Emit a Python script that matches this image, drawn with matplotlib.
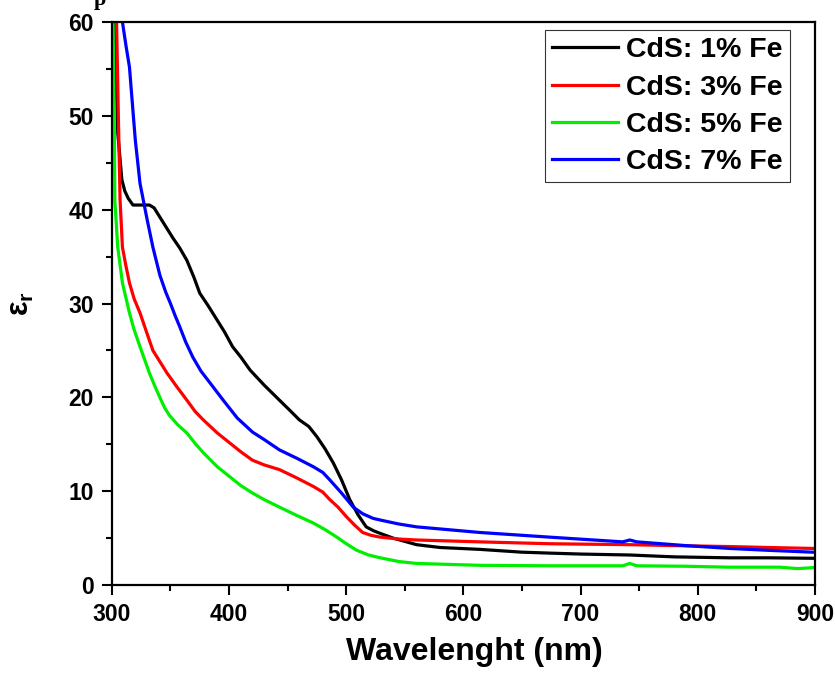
import matplotlib
matplotlib.use("Agg")
import matplotlib.pyplot as plt
from matplotlib.ticker import MultipleLocator

plt.rcParams['font.family'] = ['Liberation Sans', 'DejaVu Sans']
plt.rcParams['font.weight'] = 'bold'
plt.rcParams['mathtext.fontset'] = 'custom'
plt.rcParams['mathtext.rm'] = 'Liberation Sans'
plt.rcParams['mathtext.it'] = 'Liberation Sans:italic'
plt.rcParams['mathtext.bf'] = 'Liberation Sans:bold'

# Fe 1 %
x_fe1 = [302, 305, 308.5, 311, 314, 318, 325, 332, 336, 341, 346, 352, 358, 364, 370, 375,
         382, 390, 396, 403, 410, 418, 430, 443, 452, 460, 468, 475, 482, 489, 496,
         503, 510, 517, 523, 529, 540, 560, 580, 614, 650, 674, 700, 742, 780, 827, 860, 898]
y_fe1 = [60, 48.2, 43.2, 42.0, 41.2, 40.5, 40.5, 40.5, 40.2, 39.2, 38.2, 37.0, 35.9, 34.6, 32.8, 31.1,
         29.8, 28.2, 27.0, 25.4, 24.3, 22.9, 21.3, 19.7, 18.6, 17.6, 16.9, 15.8, 14.5, 13.0, 11.2,
         9.1, 7.5, 6.2, 5.8, 5.5, 5.0, 4.3, 4.0, 3.8, 3.5, 3.4, 3.3, 3.2, 3.0, 2.9, 2.9, 2.85]

# Fe 3 %
x_fe3 = [304, 305.5, 307, 309, 312, 315, 319, 324, 330, 335, 341, 347, 355, 364, 371,
         378, 390, 401, 410, 420, 430, 443, 458, 472, 480, 486, 493, 500, 507, 514,
         521, 529, 545, 560, 614, 674, 742, 780, 827, 860, 898]
y_fe3 = [60, 50, 41, 36, 34, 32.2, 30.5, 29, 26.8, 25, 23.8, 22.6, 21.2, 19.7, 18.5,
         17.6, 16.2, 15.1, 14.2, 13.3, 12.8, 12.3, 11.4, 10.5, 9.9, 9.1, 8.3, 7.3, 6.4, 5.6,
         5.3, 5.1, 4.9, 4.8, 4.6, 4.4, 4.3, 4.2, 4.1, 4.0, 3.9]

# Fe 5 %
x_fe5 = [301, 302, 302.5, 305, 309, 315, 319, 324, 328, 332, 337, 342, 345, 349, 356, 364, 371, 378, 390,
         401, 410, 420, 430, 443, 458, 472, 482, 492, 500, 509, 519, 529, 545, 560, 614,
         674, 736, 742, 748, 790, 827, 870, 885, 892, 898]
y_fe5 = [60, 50, 41, 36, 32.2, 29, 27.2, 25.4, 24.0, 22.6, 21.1, 19.7, 18.9, 18.1, 17.1, 16.2, 15.1, 14.1, 12.6,
         11.5, 10.6, 9.8, 9.1, 8.3, 7.4, 6.6, 5.9, 5.1, 4.4, 3.7, 3.2, 2.9, 2.5, 2.3, 2.1,
         2.05, 2.05, 2.3, 2.05, 2.0, 1.9, 1.9, 1.75, 1.8, 1.85]

# Fe 7 %
x_fe7 = [309, 312, 315, 318, 320, 324, 330, 335, 341, 346, 350, 354, 358, 363, 369, 376, 384, 395,
         407, 420, 430, 443, 458, 472, 480, 486, 496, 506, 514, 523, 530, 545, 560, 614,
         674, 736, 742, 748, 790, 827, 860, 898]
y_fe7 = [60, 57.5, 55.2, 50.5, 47.4, 42.8, 39.0, 36.0, 33.0, 31.2, 30.0, 28.7, 27.5, 25.9, 24.3, 22.8, 21.5, 19.7,
         17.8, 16.3, 15.5, 14.4, 13.5, 12.6, 12.0, 11.2, 9.8, 8.3, 7.6, 7.1, 6.9, 6.5, 6.2, 5.6,
         5.1, 4.6, 4.8, 4.6, 4.2, 3.9, 3.7, 3.5]

labels = ['CdS: 1% Fe', 'CdS: 3% Fe', 'CdS: 5% Fe', 'CdS: 7% Fe']
colors = ['#000000', '#ff0000', '#00ee00', '#0000ff']

fig = plt.figure(figsize=(8.35, 6.75), dpi=100)
ax = fig.add_axes([0.134, 0.1333, 0.842, 0.834])

series = [(x_fe1, y_fe1), (x_fe3, y_fe3), (x_fe5, y_fe5), (x_fe7, y_fe7)]
for (xs, ys), lab, col in zip(series, labels, colors):
    ax.plot(xs, ys, color=col, lw=2.3, label=lab)

ax.set_xlim(300, 900)
ax.set_ylim(0, 60)
ax.xaxis.set_major_locator(MultipleLocator(100))
ax.xaxis.set_minor_locator(MultipleLocator(50))
ax.yaxis.set_major_locator(MultipleLocator(10))
ax.yaxis.set_minor_locator(MultipleLocator(5))
ax.tick_params(which='major', direction='out', length=7, width=1.5, labelsize=16.5, pad=6)
ax.tick_params(which='minor', direction='out', length=4, width=1.5)
ax.tick_params(top=False, right=False)
for lab in ax.get_xticklabels() + ax.get_yticklabels():
    lab.set_fontweight('bold')
for sp in ax.spines.values():
    sp.set_linewidth(1.6)

ax.set_xlabel('Wavelenght (nm)', fontsize=23, fontweight='bold')
ax.xaxis.set_label_coords(0.516, -0.092)
ax.set_ylabel(r'$\mathrm{\varepsilon_r}$', fontsize=22)
ax.yaxis.set_label_coords(-0.108, 0.5)

leg = ax.legend(loc='upper right', bbox_to_anchor=(0.9644, 0.9858), fontsize=20.5,
                handlelength=2.3, handletextpad=0.3, borderpad=0.25,
                labelspacing=0.4, fancybox=False, borderaxespad=0)
leg.get_frame().set_edgecolor('black')
leg.get_frame().set_linewidth(0.8)
for t in leg.get_texts():
    t.set_fontweight('bold')

# leftover glyph of a cut-off title at the very top
fig.text(0.12, 1.0, 'p', family='Liberation Serif', fontsize=16, ha='center', va='center')

fig.savefig('out.png', dpi=100)
